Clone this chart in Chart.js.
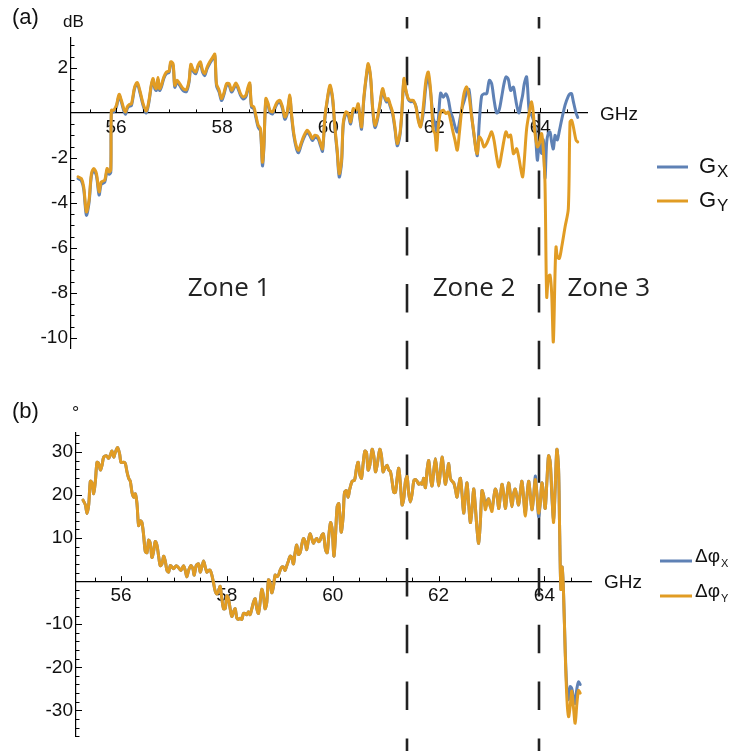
<!DOCTYPE html>
<html>
<head>
<meta charset="utf-8">
<script src="https://cdn.jsdelivr.net/npm/chart.js@4.4.0/dist/chart.umd.min.js"></script>
<style>
  html, body { margin: 0; padding: 0; background: #fff; }
  #wrap { position: relative; width: 731px; height: 751px; }
  #gain { position: absolute; left: 0; top: 0; }
  #phase { position: absolute; left: 0; top: 375px; }
</style>
</head>
<body>
<div id="wrap">
  <canvas id="gain" width="731" height="375" style="width:731px;height:375px"></canvas>
  <canvas id="phase" width="731" height="376" style="width:731px;height:376px"></canvas>
</div>
<script>
// ---- data ----
const gainFreq = [
  55.283, 55.346, 55.39, 55.44, 55.49, 55.535, 55.58, 55.63, 55.68, 55.72,
  55.786, 55.83, 55.868, 55.90, 55.912, 55.956, 56.006, 56.057, 56.10, 56.145,
  56.18, 56.21, 56.245, 56.29, 56.35, 56.40, 56.447, 56.51, 56.57, 56.62,
  56.667, 56.70, 56.73, 56.76, 56.79, 56.82, 56.855, 56.90, 56.95, 57.0,
  57.03, 57.075, 57.107, 57.15, 57.20, 57.264, 57.327, 57.377, 57.41, 57.453,
  57.503, 57.547, 57.59, 57.63, 57.673, 57.717, 57.767, 57.818, 57.862, 57.893,
  57.943, 57.987, 58.03, 58.082, 58.132, 58.176, 58.22, 58.258, 58.30, 58.346,
  58.396, 58.447, 58.49, 58.522, 58.553, 58.597, 58.635, 58.68, 58.723, 58.76,
  58.786, 58.824, 58.868, 58.90, 58.95, 58.994, 59.038, 59.088, 59.138, 59.182,
  59.226, 59.277, 59.308, 59.352, 59.403, 59.44, 59.497, 59.547, 59.604, 59.654,
  59.704, 59.748, 59.81, 59.855, 59.893, 59.937, 59.97, 60.032, 60.082, 60.126,
  60.17, 60.208, 60.252, 60.283, 60.334, 60.378, 60.422, 60.472, 60.522, 60.566,
  60.598, 60.629, 60.673, 60.723, 60.755, 60.80, 60.837, 60.881, 60.925, 60.975,
  61.025, 61.07, 61.10, 61.132, 61.164, 61.214, 61.258, 61.302, 61.352, 61.384,
  61.428, 61.466, 61.51, 61.554, 61.604, 61.654, 61.698, 61.742, 61.793, 61.843,
  61.887, 61.931, 61.981, 62.013, 62.044, 62.076, 62.12, 62.17, 62.22, 62.264,
  62.308, 62.346, 62.39, 62.434, 62.472, 62.516, 62.56, 62.61, 62.654, 62.705,
  62.749, 62.786, 62.812, 62.849, 62.893, 62.937, 62.988, 63.038, 63.082, 63.126,
  63.176, 63.22, 63.27, 63.315, 63.352, 63.396, 63.44, 63.491, 63.522, 63.554,
  63.598, 63.636, 63.667, 63.698, 63.742, 63.793, 63.837, 63.868, 63.90, 63.944,
  63.981, 64.025, 64.057, 64.088, 64.12, 64.151, 64.183, 64.214, 64.245, 64.277,
  64.296, 64.321, 64.359, 64.403, 64.466, 64.528, 64.56, 64.591, 64.623, 64.673,
  64.705
];
const gainX = [
  -2.92, -3.02, -3.40, -4.55, -4.00, -2.80, -2.56, -2.80, -3.65, -3.17,
  -3.08, -2.56, -2.72, -2.65, 0.05, 0.04, 0.26, 0.76, 0.48, 0.10,
  -0.06, 0.19, 0.29, 0.33, 1.09, 1.28, 0.93, 0.33, 0.00, 0.48,
  1.23, 1.46, 1.08, 1.00, 1.50, 1.00, 1.15, 1.53, 1.75, 1.80,
  2.20, 2.11, 1.14, 1.37, 1.22, 0.99, 0.95, 1.37, 2.09, 1.85,
  1.74, 2.05, 2.20, 1.82, 1.66, 1.97, 2.20, 2.39, 2.54, 1.22,
  0.93, 0.55, 0.78, 1.22, 1.22, 0.93, 1.08, 1.26, 1.08, 0.78,
  0.62, 0.71, 1.08, 1.26, 0.26, 0.19, -0.19, -0.64, -0.80, -2.35,
  -1.62, 0.56, 0.33, 0.03, -0.05, 0.19, 0.41, 0.48, 0.18, -0.28,
  -0.05, 0.71, -0.12, -1.02, -1.61, -1.77, -1.38, -1.08, -0.86, -1.01,
  -1.23, -1.08, -1.16, -1.46, -1.70, -0.27, 0.33, 1.15, 0.62, -0.72,
  -1.78, -2.85, -2.22, -0.56, -0.05, -0.12, -0.49, 0.10, 0.03, 0.33,
  -0.27, -0.72, 0.63, 1.68, 2.12, 1.52, 0.18, -0.65, -0.34, 0.33,
  1.00, 0.63, 0.48, 0.56, 0.33, -0.05, -0.71, -1.46, -1.01, -0.18,
  1.45, 0.97, 0.60, 0.50, 0.50, 0.30, -0.25, -0.60, 0.00, 1.20,
  1.60, 0.90, -0.25, -0.45, -0.80, -0.30, 0.88, 0.70, 0.85, 0.60,
  0.05, -0.20, -0.60, -0.85, -0.45, 0.15, 0.50, 0.90, 1.05, -0.10,
  -1.00, -1.60, -1.90, -0.40, 0.75, 0.85, 0.85, 1.45, 1.30, 0.60,
  0.00, 0.10, 0.70, 1.30, 1.60, 1.50, 1.00, 1.15, 0.80, 0.35,
  0.00, 0.45, 0.80, 1.30, 1.60, 0.00, -0.10, -0.30, -0.60, -2.10,
  -1.30, -1.80, -1.20, -2.90, -1.30, -0.90, -0.85, -1.30, -1.60, -1.00,
  -1.10, -1.20, -0.80, -0.30, 0.35, 0.75, 0.85, 0.85, 0.50, 0.00,
  -0.20
];
const gainY = [
  -2.84, -2.92, -3.29, -4.40, -3.88, -2.70, -2.47, -2.70, -3.51, -3.07,
  -2.99, -2.47, -2.62, -2.55, 0.12, 0.12, 0.34, 0.83, 0.56, 0.19,
  0.04, 0.27, 0.37, 0.41, 1.16, 1.35, 1.01, 0.41, 0.09, 0.56,
  1.30, 1.53, 1.16, 1.08, 1.57, 1.08, 1.23, 1.60, 1.82, 1.87,
  2.27, 2.19, 1.23, 1.45, 1.30, 1.08, 1.04, 1.45, 2.16, 1.93,
  1.82, 2.12, 2.27, 1.90, 1.75, 2.04, 2.27, 2.46, 2.61, 1.30,
  1.01, 0.64, 0.86, 1.30, 1.30, 1.01, 1.16, 1.33, 1.16, 0.86,
  0.71, 0.79, 1.16, 1.33, 0.34, 0.27, -0.10, -0.55, -0.70, -2.19,
  -1.51, 0.64, 0.41, 0.12, 0.04, 0.27, 0.49, 0.56, 0.27, -0.18,
  0.04, 0.79, -0.03, -0.92, -1.51, -1.66, -1.29, -0.99, -0.77, -0.92,
  -1.14, -0.99, -1.07, -1.36, -1.59, -0.18, 0.41, 1.23, 0.71, -0.62,
  -1.66, -2.70, -2.10, -0.47, 0.04, -0.03, -0.40, 0.19, 0.12, 0.41,
  -0.18, -0.62, 0.71, 1.75, 2.19, 1.60, 0.27, -0.55, -0.25, 0.41,
  1.08, 0.71, 0.56, 0.64, 0.41, 0.04, -0.62, -1.36, -0.92, -0.10,
  1.53, 1.01, 0.64, 0.56, 0.56, 0.27, -0.33, -0.62, 0.27, 1.45,
  1.82, 1.01, -0.77, -0.92, -1.66, -0.62, 0.04, 0.12, -0.03, 0.04,
  -0.33, -0.77, -1.21, -1.66, -0.92, 0.12, 0.86, 1.16, 0.79, -0.18,
  -0.92, -1.66, -1.81, -1.07, -1.21, -1.51, -1.36, -1.07, -0.84, -1.21,
  -1.96, -2.40, -1.81, -1.21, -0.84, -1.07, -0.99, -1.81, -1.73, -1.59,
  -2.03, -2.55, -2.84, -2.10, -0.70, 0.04, 0.49, -0.03, -0.92, -1.51,
  -1.36, -0.92, -1.66, -3.14, -8.18, -7.29, -7.21, -8.03, -10.18, -7.14,
  -5.96, -6.40, -6.47, -5.96, -5.07, -4.25, -0.40, -0.33, -0.62, -1.21,
  -1.29
];

const phaseFreq = [
  55.283, 55.327, 55.358, 55.39, 55.421, 55.453, 55.484, 55.516, 55.547, 55.579,
  55.61, 55.642, 55.673, 55.723, 55.767, 55.799, 55.83, 55.862, 55.893, 55.937,
  55.975, 56.0, 56.05, 56.082, 56.113, 56.145, 56.176, 56.208, 56.239, 56.27,
  56.302, 56.333, 56.365, 56.396, 56.428, 56.459, 56.491, 56.522, 56.553, 56.585,
  56.616, 56.648, 56.679, 56.711, 56.742, 56.774, 56.805, 56.836, 56.868, 56.899,
  56.931, 56.962, 56.994, 57.044, 57.088, 57.132, 57.182, 57.214, 57.245, 57.277,
  57.321, 57.358, 57.384, 57.421, 57.465, 57.497, 57.528, 57.56, 57.591, 57.623,
  57.654, 57.686, 57.717, 57.748, 57.78, 57.811, 57.843, 57.874, 57.906, 57.937,
  57.969, 58.0, 58.031, 58.063, 58.094, 58.126, 58.157, 58.189, 58.22, 58.252,
  58.283, 58.314, 58.346, 58.377, 58.409, 58.44, 58.472, 58.503, 58.535, 58.566,
  58.597, 58.629, 58.66, 58.692, 58.723, 58.755, 58.786, 58.818, 58.849, 58.881,
  58.912, 58.943, 58.975, 59.006, 59.038, 59.069, 59.101, 59.132, 59.164, 59.195,
  59.226, 59.258, 59.289, 59.321, 59.352, 59.384, 59.415, 59.447, 59.478, 59.509,
  59.541, 59.572, 59.604, 59.635, 59.667, 59.698, 59.73, 59.761, 59.792, 59.824,
  59.864, 59.896, 59.927, 59.959, 59.99, 60.022, 60.053, 60.084, 60.116, 60.16,
  60.198, 60.223, 60.261, 60.292, 60.323, 60.367, 60.412, 60.449, 60.481, 60.512,
  60.544, 60.575, 60.607, 60.638, 60.669, 60.701, 60.745, 60.776, 60.808, 60.839,
  60.89, 60.921, 60.952, 60.984, 61.028, 61.059, 61.091, 61.122, 61.154, 61.185,
  61.217, 61.248, 61.279, 61.311, 61.342, 61.374, 61.405, 61.437, 61.468, 61.5,
  61.531, 61.562, 61.594, 61.625, 61.657, 61.688, 61.72, 61.751, 61.783, 61.814,
  61.845, 61.877, 61.908, 61.94, 61.971, 62.003, 62.034, 62.066, 62.097, 62.128,
  62.16, 62.191, 62.223, 62.254, 62.286, 62.317, 62.349, 62.38, 62.412, 62.443,
  62.474, 62.506, 62.537, 62.569, 62.6, 62.632, 62.663, 62.695, 62.726, 62.757,
  62.789, 62.82, 62.852, 62.883, 62.915, 62.946, 62.978, 63.009, 63.04, 63.072,
  63.103, 63.135, 63.166, 63.198, 63.229, 63.261, 63.292, 63.324, 63.355, 63.386,
  63.418, 63.449, 63.481, 63.512, 63.544, 63.575, 63.606, 63.638, 63.669, 63.701,
  63.732, 63.764, 63.795, 63.827, 63.858, 63.89, 63.921, 63.952, 63.984, 64.015,
  64.047, 64.078, 64.11, 64.141, 64.173, 64.204, 64.235, 64.267, 64.286, 64.311,
  64.336, 64.361, 64.393, 64.424, 64.456, 64.487, 64.518, 64.55, 64.581, 64.613,
  64.644, 64.676
];
const phaseX = [
  18.8, 17.7, 15.7, 17.7, 23.2, 22.8, 20.3, 23.2, 27.6, 27.3,
  25.8, 26.9, 28.8, 29.1, 28.5, 29.3, 30.2, 28.8, 29.9, 31.0,
  29.5, 27.6, 27.6, 27.3, 25.4, 23.9, 23.2, 20.6, 19.5, 20.3,
  18.0, 12.9, 14.0, 13.6, 10.6, 6.9, 6.6, 9.5, 8.8, 5.5,
  6.9, 9.2, 8.4, 5.8, 3.6, 4.0, 5.8, 4.7, 2.5, 2.1,
  3.6, 3.3, 2.9, 3.6, 3.1, 2.5, 3.6, 2.5, 1.0, 2.5,
  3.6, 2.9, 1.4, 3.6, 4.0, 2.1, 3.3, 4.7, 3.3, 2.1,
  2.5, 2.5, 1.4, -0.4, -2.3, -3.0, -2.3, -1.2, -4.1, -6.4,
  -6.4, -3.4, -4.1, -6.4, -8.2, -7.1, -6.4, -8.6, -8.9, -8.6,
  -8.9, -7.5, -7.5, -7.8, -7.1, -7.8, -6.4, -4.9, -4.1, -6.4,
  -7.5, -4.9, -1.9, -3.4, -6.4, -4.9, 0.3, -0.4, -2.7, -1.2,
  1.4, 1.0, 1.4, 2.5, 3.3, 3.3, 2.5, 3.6, 4.7, 5.8,
  5.5, 4.0, 6.6, 8.4, 6.2, 6.6, 8.4, 9.9, 9.2, 7.3,
  9.5, 11.0, 9.9, 8.8, 9.5, 9.9, 9.2, 9.5, 10.6, 11.0,
  7.3, 6.6, 10.6, 13.6, 12.1, 5.8, 10.6, 17.3, 18.0, 11.4,
  15.1, 20.6, 21.0, 19.5, 21.4, 23.2, 23.4, 26.2, 27.6, 24.7,
  23.9, 27.3, 30.2, 29.9, 25.8, 26.9, 30.6, 29.1, 25.4, 26.9,
  30.6, 29.1, 25.4, 26.2, 26.9, 25.8, 25.4, 23.2, 20.6, 20.6,
  23.9, 26.2, 22.5, 17.7, 19.1, 23.2, 24.3, 20.3, 18.4, 20.3,
  23.2, 23.6, 23.2, 22.5, 22.8, 22.5, 23.9, 21.7, 25.8, 28.0,
  24.3, 22.1, 25.4, 28.4, 25.4, 22.1, 25.4, 28.8, 25.8, 22.5,
  24.7, 27.3, 23.9, 23.2, 22.8, 21.4, 19.5, 22.1, 23.9, 20.3,
  15.8, 19.5, 22.8, 18.0, 13.6, 16.6, 21.4, 17.3, 12.1, 8.8,
  13.6, 21.0, 19.9, 17.4, 18.6, 19.1, 17.3, 17.0, 19.1, 21.4,
  20.3, 16.9, 19.5, 22.5, 20.3, 16.9, 19.9, 22.8, 20.3, 17.3,
  20.3, 21.4, 19.5, 17.7, 20.6, 23.2, 19.5, 15.8, 19.5, 23.2,
  20.3, 16.6, 19.5, 24.4, 20.3, 15.0, 18.0, 22.8, 20.3, 16.9,
  23.2, 29.1, 27.6, 19.6, 14.4, 21.7, 30.6, 26.2, 12.9, -1.9,
  3.3, -2.7, -16.0, -25.0, -27.5, -24.5, -25.0, -27.0, -28.4, -25.0,
  -23.4, -24.0
];
const phaseY = [
  18.8, 17.7, 15.7, 17.7, 23.2, 22.8, 20.3, 23.2, 27.6, 27.3,
  25.8, 26.9, 28.8, 29.1, 28.5, 29.3, 30.2, 28.8, 29.9, 31.0,
  29.5, 27.6, 27.6, 27.3, 25.4, 23.9, 23.2, 20.6, 19.5, 20.3,
  18.0, 12.9, 14.0, 13.6, 10.6, 6.9, 6.6, 9.5, 8.8, 5.5,
  6.9, 9.2, 8.4, 5.8, 3.6, 4.0, 5.8, 4.7, 2.5, 2.1,
  3.6, 3.3, 2.9, 3.6, 3.1, 2.5, 3.6, 2.5, 1.0, 2.5,
  3.6, 2.9, 1.4, 3.6, 4.0, 2.1, 3.3, 4.7, 3.3, 2.1,
  2.5, 2.5, 1.4, -0.4, -2.3, -3.0, -2.3, -1.2, -4.1, -6.4,
  -6.4, -3.4, -4.1, -6.4, -8.2, -7.1, -6.4, -8.6, -8.9, -8.6,
  -8.9, -7.5, -7.5, -7.8, -7.1, -7.8, -6.4, -4.9, -4.1, -6.4,
  -7.5, -4.9, -1.9, -3.4, -6.4, -4.9, 0.3, -0.4, -2.7, -1.2,
  1.4, 1.0, 1.4, 2.5, 3.3, 3.3, 2.5, 3.6, 4.7, 5.8,
  5.5, 4.0, 6.6, 8.4, 6.2, 6.6, 8.4, 9.9, 9.2, 7.3,
  9.5, 11.0, 9.9, 8.8, 9.5, 9.9, 9.2, 9.5, 10.6, 11.0,
  7.3, 6.6, 10.6, 13.6, 12.1, 5.8, 10.6, 17.3, 18.0, 11.4,
  15.1, 20.6, 21.0, 19.5, 21.4, 23.2, 23.4, 26.2, 27.6, 24.7,
  23.9, 27.3, 30.2, 29.9, 25.8, 26.9, 30.6, 29.1, 25.4, 26.9,
  30.6, 29.1, 25.4, 26.2, 26.9, 25.8, 25.4, 23.2, 20.6, 20.6,
  23.9, 26.2, 22.5, 17.7, 19.1, 23.2, 24.3, 20.3, 18.4, 20.3,
  23.2, 23.6, 23.2, 22.5, 22.8, 22.5, 23.9, 21.7, 25.8, 28.0,
  24.3, 22.1, 25.4, 28.4, 25.4, 22.1, 25.4, 28.8, 25.8, 22.5,
  24.7, 27.3, 23.9, 23.2, 22.8, 21.4, 19.5, 22.1, 23.9, 20.3,
  15.8, 19.5, 22.8, 18.0, 13.6, 16.6, 21.4, 17.3, 12.1, 8.8,
  13.6, 21.0, 19.9, 16.6, 18.0, 19.1, 17.3, 16.2, 19.1, 21.4,
  20.3, 16.9, 19.5, 22.5, 20.3, 16.9, 19.9, 22.8, 20.3, 17.3,
  20.3, 21.4, 19.5, 17.7, 20.6, 23.2, 19.5, 15.1, 19.5, 23.2,
  20.3, 16.6, 19.5, 23.6, 20.3, 15.8, 18.0, 22.8, 20.3, 16.9,
  23.2, 29.1, 27.6, 20.3, 13.6, 21.7, 30.6, 26.2, 12.9, -1.9,
  3.3, -2.7, -16.7, -27.1, -31.5, -29.0, -25.5, -29.5, -33.0, -28.5,
  -25.4, -26.0
];

const freqTicks = [56, 58, 60, 62, 64];
const gainTicks = [-10, -8, -6, -4, -2, 2];
const phaseTicks = [-30, -20, -10, 10, 20, 30];
const zoneEdges = [61.49, 63.975];
const zoneNames = ['Zone 1', 'Zone 2', 'Zone 3'];
const zoneNameAt = [58.13, 62.75, 65.29];
const gainLegend = [['G', 'X'], ['G', 'Y']];
const phaseLegend = [['\u0394\u03c6', 'X'], ['\u0394\u03c6', 'Y']];

// ---- styling ----
const BLUE = '#5e81b5';
const ORANGE = '#e19c24';
const INK = '#111';
const SANS = '"Liberation Sans", Arial, sans-serif';

const pts = (xs, ys) => xs.map((x, i) => ({ x: x, y: ys[i] }));

function series(label, xs, ys, color, order) {
  return {
    label: label, data: pts(xs, ys), borderColor: color, borderWidth: 3,
    borderJoinStyle: 'round', borderCapStyle: 'round',
    pointRadius: 0, tension: 0.3, fill: false, order: order
  };
}

function axisOpts(ticksArr, extra) {
  return Object.assign({
    type: 'linear',
    grid: { display: false, drawTicks: false },
    border: { display: true, color: '#000', width: 1.2 },
    ticks: { color: INK, font: { family: SANS, size: 19 }, padding: 3 },
    afterBuildTicks: s => { s.ticks = ticksArr.map(v => ({ value: v })); }
  }, extra);
}

// small Mathematica-like tick marks pointing into the plot
function drawTicks(chart, t) {
  const { ctx, scales: { x, y } } = chart;
  const y0 = y.getPixelForValue(0);
  const x0 = chart.chartArea.left;
  ctx.save();
  ctx.strokeStyle = '#000';
  ctx.lineWidth = 1;
  ctx.beginPath();
  for (let k = Math.ceil(x.min / t.xMinor); k * t.xMinor <= x.max; k++) {
    const v = k * t.xMinor;
    const px = Math.round(x.getPixelForValue(v)) + 0.5;
    const major = Math.abs(v / t.xMajor - Math.round(v / t.xMajor)) < 1e-6;
    ctx.moveTo(px, y0);
    ctx.lineTo(px, y0 - (major ? 5 : 3.5));
  }
  for (let k = Math.ceil(y.min / t.yMinor); k * t.yMinor <= y.max; k++) {
    const v = k * t.yMinor;
    if (Math.abs(v) < 1e-9) continue;
    const py = Math.round(y.getPixelForValue(v)) + 0.5;
    const major = Math.abs(v / t.yMajor - Math.round(v / t.yMajor)) < 1e-6;
    ctx.moveTo(x0, py);
    ctx.lineTo(x0 + (major ? 6 : 3.5), py);
  }
  ctx.stroke();
  ctx.restore();
}

function drawLegend(ctx, items, colors, l) {
  items.forEach((it, i) => {
    const ly = l.y[i];
    ctx.strokeStyle = colors[i];
    ctx.lineWidth = 3;
    ctx.beginPath();
    ctx.moveTo(l.x0, ly);
    ctx.lineTo(l.x1, ly);
    ctx.stroke();
    ctx.fillStyle = INK;
    ctx.textAlign = 'left';
    ctx.textBaseline = 'alphabetic';
    ctx.font = l.mainSize + 'px ' + SANS;
    ctx.fillText(it[0], l.tx, ly + l.mainDrop);
    const w = ctx.measureText(it[0]).width;
    ctx.font = l.subSize + 'px ' + SANS;
    ctx.fillText(it[1], l.tx + w + 1, ly + l.subDrop);
  });
}

function decorations(cfg) {
  return {
    id: 'decor',
    beforeDatasetsDraw(chart) {
      const ctx = chart.ctx;
      const xs = cfg.zoneScale(chart);
      ctx.save();
      ctx.strokeStyle = '#222';
      ctx.lineWidth = 2.6;
      ctx.setLineDash([28.4, 28.4]);
      ctx.lineDashOffset = cfg.figTop + cfg.dashStart;
      zoneEdges.forEach(v => {
        const px = Math.round(xs.getPixelForValue(v));
        ctx.beginPath();
        ctx.moveTo(px, cfg.dashStart);
        ctx.lineTo(px, chart.height);
        ctx.stroke();
      });
      ctx.restore();
    },
    afterDraw(chart) {
      drawTicks(chart, cfg.ticks);
      const ctx = chart.ctx;
      const y0 = chart.scales.y.getPixelForValue(0);
      ctx.save();
      ctx.fillStyle = INK;
      ctx.textAlign = 'left';
      ctx.textBaseline = 'alphabetic';
      ctx.font = '22px ' + SANS;
      ctx.fillText(cfg.tag, 12, cfg.tagBase);
      ctx.font = cfg.unitSize + 'px ' + SANS;
      ctx.fillText(cfg.unit, cfg.unitX, cfg.unitBase);
      ctx.font = '19px ' + SANS;
      ctx.fillText('GHz', chart.chartArea.right + 13, y0 + 7);
      if (cfg.zones) {
        ctx.font = '26px "Open Sans", sans-serif';
        ctx.fillStyle = '#222';
        ctx.textAlign = 'center';
        ctx.textBaseline = 'middle';
        zoneNames.forEach((s, i) => {
          ctx.fillText(s, chart.scales.x.getPixelForValue(zoneNameAt[i]), chart.scales.y.getPixelForValue(cfg.zoneY));
        });
      }
      drawLegend(ctx, cfg.legend, [BLUE, ORANGE], cfg.legendBox);
      ctx.restore();
    }
  };
}

// ---- (a) gain ----
const gainChart = new Chart(document.getElementById('gain').getContext('2d'), {
  type: 'line',
  data: {
    datasets: [
      series('Gx', gainFreq, gainX, BLUE, 2),
      series('Gy', gainFreq, gainY, ORANGE, 1)
    ]
  },
  options: {
    responsive: false,
    animation: false,
    layout: { padding: { top: 38, right: 144, bottom: 27, left: 0 } },
    plugins: { legend: { display: false }, tooltip: { enabled: false } },
    scales: {
      x: axisOpts(freqTicks, { min: 55.15, max: 64.88, position: { y: 0 } }),
      y: axisOpts(gainTicks, { min: -10.45, max: 3.33, position: 'left', afterFit: s => { s.width = 71; } })
    }
  },
  plugins: [decorations({
    zoneScale: c => c.scales.x,
    figTop: 0, dashStart: 17,
    ticks: { xMinor: 0.5, xMajor: 2, yMinor: 0.5, yMajor: 2 },
    tag: '(a)', tagBase: 24, unit: 'dB', unitSize: 17, unitX: 63, unitBase: 27,
    zones: true, zoneY: -7.8,
    legend: gainLegend,
    legendBox: { x0: 657, x1: 688, y: [167, 201], tx: 699, mainSize: 22, subSize: 17, mainDrop: 6, subDrop: 9.5 }
  })]
});

// ---- (b) phase ----
const phaseChart = new Chart(document.getElementById('phase').getContext('2d'), {
  type: 'line',
  data: {
    datasets: [
      series('dphiX', phaseFreq, phaseX, BLUE, 2),
      series('dphiY', phaseFreq, phaseY, ORANGE, 1)
    ]
  },
  options: {
    responsive: false,
    animation: false,
    layout: { padding: { top: 58, right: 140, bottom: 0, left: 0 } },
    plugins: { legend: { display: false }, tooltip: { enabled: false } },
    scales: {
      x: axisOpts(freqTicks, { min: 55.15, max: 64.88, position: { y: 0 } }),
      y: axisOpts(phaseTicks, { min: -36.1, max: 34.4, position: 'left', afterFit: s => { s.width = 76; } })
    }
  },
  plugins: [decorations({
    zoneScale: () => gainChart.scales.x,
    figTop: 375, dashStart: 0,
    ticks: { xMinor: 0.5, xMajor: 2, yMinor: 2, yMajor: 10 },
    tag: '(b)', tagBase: 43, unit: '\u00b0', unitSize: 18, unitX: 72, unitBase: 44,
    zones: false,
    legend: phaseLegend,
    legendBox: { x0: 660, x1: 692, y: [186, 221], tx: 695, mainSize: 19, subSize: 11, mainDrop: 1, subDrop: 6 }
  })]
});
</script>
</body>
</html>
